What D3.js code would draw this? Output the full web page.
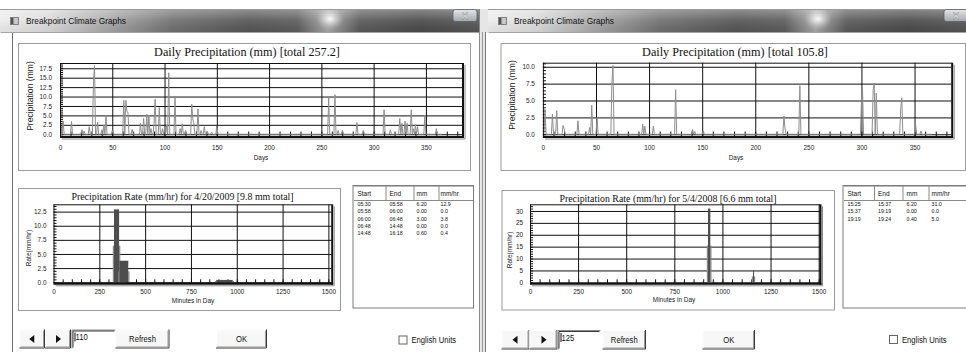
<!DOCTYPE html>
<html><head><meta charset="utf-8">
<script src="https://cdn.jsdelivr.net/npm/d3@7"></script>
<style>html,body{margin:0;padding:0;background:#fff;overflow:hidden}svg{display:block}</style>
</head><body>
<script>
// ---- daily totals (day of year, mm) ----
const rainDays2009 = [3,11,21,23,28,32,33,36,40,42,44,50,61,63,64,65,69,77,80,83,85,87,90,91,95,98,100,102,104,110,115,117,120,126,127,128,132,135,138,141,145,150,257,263,266,270,284,290,310,316,325,327,330,332,336,338,340,342,349,360];
const rainMm2009   = [3.5,3.4,1.2,0.8,2.0,14.0,18.2,3.2,1.2,2.5,5.0,1.0,9.0,9.0,6.0,5.8,1.3,2.9,4.2,5.3,5.1,1.5,3.0,9.3,7.1,1.5,1.5,2.5,16.3,9.8,1.5,2.8,1.0,8.0,4.0,3.0,6.7,1.0,2.0,0.8,0.6,2.2,9.7,10.5,1.0,1.0,3.1,1.0,6.5,1.2,4.2,2.9,3.5,2.9,6.5,1.5,2.5,2.0,5.0,1.5];
const rainDays2008 = [2,9,13,19,20,33,44,46,51,65,66,94,96,104,125,141,143,151,227,228,242,300,301,311,312,314,337,338,351,356];
const rainMm2008   = [3.7,3.0,3.5,1.3,0.8,2.0,1.0,4.3,2.5,7.6,10.2,1.5,1.2,1.2,6.6,0.7,0.4,0.5,2.7,0.9,7.2,4.8,6.8,6.5,7.6,6.1,3.8,5.4,1.5,0.5];

// ---- breakpoint events for the selected day ----
const evStart0420 = ["05:30","05:58","06:00","06:48","14:48"];
const evEnd0420   = ["05:58","06:00","06:48","14:48","16:18"];
const evMm0420    = ["6.20","0.00","3.00","0.00","0.60"];
const evRate0420  = ["12.9","0.0","3.8","0.0","0.4"];
const evStart0504 = ["15:25","15:37","19:19"];
const evEnd0504   = ["15:37","19:19","19:24"];
const evMm0504    = ["6.20","0.00","0.40"];
const evRate0504  = ["31.0","0.0","5.0"];

// ---- tick values ----
const dayTicks = [0,50,100,150,200,250,300,350];
const minuteTicks = [0,250,500,750,1000,1250,1500];
const mmTicks2009 = [0,2.5,5,7.5,10,12.5,15,17.5];
const mmTicks2008 = [0,2.5,5,7.5,10];
const rateTicks0420 = [0,2.5,5,7.5,10,12.5];
const rateTicks0504 = [0,5,10,15,20,25,30];
const tableHeader = ["Start","End","mm","mm/hr"];

const SANS = "'Liberation Sans', Arial, sans-serif";
const SERIF = "'Liberation Serif', 'Times New Roman', serif";

const svg = d3.select("body").append("svg").attr("width",966).attr("height",352);
const defs = svg.append("defs");
svg.append("rect").attr("width",966).attr("height",352).attr("fill","#fff");

// ---------- window chrome ----------
function barGradient(id, x0, x1){
  const g = defs.append("linearGradient").attr("id",id).attr("gradientUnits","userSpaceOnUse")
    .attr("x1",x0).attr("x2",x1).attr("y1",0).attr("y2",0);
  [[0,"#ececec"],[0.1,"#dadada"],[0.22,"#a9a9a9"],[0.36,"#707070"],[0.52,"#555"],[0.62,"#5c5c5c"],
   [0.685,"#a8a8a8"],[0.75,"#5a5a5a"],[0.88,"#4a4a4a"],[1,"#565656"]]
    .forEach(([o,c])=>g.append("stop").attr("offset",o).attr("stop-color",c));
}
const sheen = defs.append("linearGradient").attr("id","sheen").attr("x1",0).attr("x2",0).attr("y1",0).attr("y2",1);
sheen.append("stop").attr("offset",0).attr("stop-color","#fff").attr("stop-opacity",0.35);
sheen.append("stop").attr("offset",0.5).attr("stop-color","#fff").attr("stop-opacity",0.08);
sheen.append("stop").attr("offset",1).attr("stop-color","#000").attr("stop-opacity",0.05);
const glow = defs.append("radialGradient").attr("id","glow");
glow.append("stop").attr("offset",0).attr("stop-color","#fff").attr("stop-opacity",0.95);
glow.append("stop").attr("offset",0.45).attr("stop-color","#eee").attr("stop-opacity",0.5);
glow.append("stop").attr("offset",1).attr("stop-color","#ccc").attr("stop-opacity",0);
const closeG = defs.append("linearGradient").attr("id","closeG").attr("x1",0).attr("x2",0).attr("y1",0).attr("y2",1);
closeG.append("stop").attr("offset",0).attr("stop-color","#e4e6ea");
closeG.append("stop").attr("offset",1).attr("stop-color","#a3a7ae");

function windowChrome(o){
  barGradient(o.id, o.x0, o.x1);
  svg.append("rect").attr("x",o.x0).attr("y",9).attr("width",o.x1-o.x0).attr("height",23).attr("fill",`url(#${o.id})`);
  svg.append("ellipse").attr("cx",o.glowX).attr("cy",19).attr("rx",14).attr("ry",11).attr("fill","url(#glow)");
  svg.append("rect").attr("x",o.x0).attr("y",9).attr("width",o.x1-o.x0).attr("height",23).attr("fill","url(#sheen)");
  svg.append("line").attr("x1",o.x0).attr("x2",o.x1).attr("y1",9.5).attr("y2",9.5).attr("stroke","#9a9a9a");
  // icon
  svg.append("rect").attr("x",o.x0+10.5).attr("y",17.5).attr("width",8).attr("height",7).attr("fill","#c8c8c8").attr("stroke","#6a6a6a").attr("stroke-width",0.8);
  svg.append("rect").attr("x",o.x0+11).attr("y",18).attr("width",2.5).attr("height",6).attr("fill","#555");
  svg.append("text").attr("x",o.x0+26).attr("y",24).attr("font-family",SANS).attr("font-size",9)
    .attr("textLength",100).attr("lengthAdjust","spacingAndGlyphs").attr("fill","#111").text("Breakpoint Climate Graphs");
  // close button
  svg.append("rect").attr("x",o.closeX).attr("y",9.5).attr("width",24).attr("height",12).attr("rx",2.5)
    .attr("fill","url(#closeG)").attr("stroke","#5d6168").attr("stroke-width",0.8);
  svg.append("text").attr("x",o.closeX+12).attr("y",18.6).attr("text-anchor","middle").attr("font-family",SANS)
    .attr("font-size",9).attr("font-weight","bold").attr("fill","#fff").attr("stroke","#555").attr("stroke-width",0.3).text("X");
  // client area border
  svg.append("line").attr("x1",o.x0+0.5).attr("x2",o.x1).attr("y1",32.5).attr("y2",32.5).attr("stroke","#a5a5a5");
}
windowChrome({id:"tb1", x0:0, x1:479, glowX:330, closeX:453});
windowChrome({id:"tb2", x0:488, x1:966, glowX:818, closeX:944});
// frame edges
svg.append("line").attr("x1",12.5).attr("x2",12.5).attr("y1",33).attr("y2",352).attr("stroke","#6d6d6d");
svg.append("rect").attr("x",479).attr("y",9).attr("width",9).attr("height",343).attr("fill","#e6e6e6");
svg.append("line").attr("x1",479.5).attr("x2",479.5).attr("y1",9).attr("y2",352).attr("stroke","#8a8a8a");
svg.append("line").attr("x1",482.5).attr("x2",482.5).attr("y1",32).attr("y2",352).attr("stroke","#9a9a9a");
svg.append("line").attr("x1",485.5).attr("x2",485.5).attr("y1",32).attr("y2",352).attr("stroke","#7a7a7a");
svg.append("rect").attr("x",486).attr("y",33).attr("width",480).attr("height",319).attr("fill","#fff");

// ---------- chart panel ----------
function panel(c){
  const g = svg.append("g");
  g.append("rect").attr("x",c.box[0]+0.5).attr("y",c.box[1]+0.5).attr("width",c.box[2]-c.box[0]).attr("height",c.box[3]-c.box[1])
    .attr("fill","#fff").attr("stroke","#9c9c9c");
  g.append("text").attr("x",c.titleX).attr("y",c.titleY).attr("text-anchor","middle").attr("font-family",SERIF)
    .attr("font-size",c.titleSize).attr("fill","#111").text(c.title);
  const [x0,x1,y0,y1] = c.plot;
  const x = d3.scaleLinear().domain(c.xDomain).range([x0,x1]);
  const y = d3.scaleLinear().domain(c.yDomain).range([y1,y0]);
  const w = x1-x0, h = y1-y0;
  // grid
  g.append("g").attr("transform",`translate(${x0},0)`)
    .call(d3.axisLeft(y).tickValues(c.yTicks).tickSize(-w).tickFormat(""))
    .call(s=>{s.select(".domain").remove(); s.selectAll("line").attr("stroke","#111").attr("stroke-width",1);});
  g.append("g").attr("transform",`translate(0,${y1})`)
    .call(d3.axisBottom(x).tickValues(c.xTicks.filter(v=>v>c.xDomain[0])).tickSize(h).tickFormat(""))
    .call(s=>{s.select(".domain").remove(); s.selectAll("line").attr("stroke","#111").attr("transform",`translate(0,${-h})`);});
  // minor ticks
  g.append("g").attr("transform",`translate(${x0},0)`)
    .call(d3.axisLeft(y).tickValues(d3.range(0,c.yDomain[1],c.yMinor)).tickSize(-3).tickFormat(""))
    .call(s=>{s.select(".domain").remove(); s.selectAll("line").attr("stroke","#111");});
  g.append("g").attr("transform",`translate(0,${y1})`)
    .call(d3.axisBottom(x).tickValues(d3.range(c.xMinor,c.xDomain[1],c.xMinor)).tickSize(-c.xMinorLen).tickFormat(""))
    .call(s=>{s.select(".domain").remove(); s.selectAll("line").attr("stroke","#111");});
  // tick labels
  g.append("g").attr("transform",`translate(${x0},0)`)
    .call(d3.axisLeft(y).tickValues(c.yTicks).tickSize(0).tickPadding(c.yPad).tickFormat(c.yFmt))
    .call(s=>{s.select(".domain").remove(); s.selectAll("text").attr("font-family",SANS).attr("font-size",6.4).attr("fill","#222");});
  g.append("g").attr("transform",`translate(0,${y1})`)
    .call(d3.axisBottom(x).tickValues(c.xTicks).tickSize(0).tickPadding(c.xPad).tickFormat(d3.format("d")))
    .call(s=>{s.select(".domain").remove(); s.selectAll("text").attr("font-family",SANS).attr("font-size",6.4).attr("fill","#222");});
  g.append("text").attr("x",c.xLabel[1]).attr("y",c.xLabel[2]).attr("text-anchor","middle").attr("font-family",SANS)
    .attr("font-size",6.4).attr("fill","#222").text(c.xLabel[0]);
  g.append("text").attr("transform",`translate(${c.yLabel[1]},${c.yLabel[2]}) rotate(-90)`).attr("text-anchor","middle")
    .attr("font-family",SANS).attr("font-size",c.yLabel[3]).attr("fill","#222").text(c.yLabel[0]);
  const marks = g.append("g");
  // plot frame with raised right/bottom edge
  g.append("line").attr("x1",x0).attr("x2",x1).attr("y1",y0+0.5).attr("y2",y0+0.5).attr("stroke","#111");
  g.append("line").attr("x1",x0+0.5).attr("x2",x0+0.5).attr("y1",y0).attr("y2",y1).attr("stroke","#111");
  g.append("line").attr("x1",x1+0.5).attr("x2",x1+0.5).attr("y1",y0).attr("y2",y1+1.5).attr("stroke","#111").attr("stroke-width",2);
  g.append("line").attr("x1",x0).attr("x2",x1+1.5).attr("y1",y1+0.5).attr("y2",y1+0.5).attr("stroke","#111").attr("stroke-width",2);
  g.append("line").attr("x1",x1+2.5).attr("x2",x1+2.5).attr("y1",y0+2).attr("y2",y1+2.5).attr("stroke","#8a8a8a");
  g.append("line").attr("x1",x0+2).attr("x2",x1+2.5).attr("y1",y1+2.5).attr("y2",y1+2.5).attr("stroke","#8a8a8a");
  return {x,y,marks};
}

function dailySeries(days, mm, n){
  const lookup = new Map(days.map((d,i)=>[d,mm[i]]));
  return d3.range(1,n+1).map(d=>({day:d, mm: lookup.get(d) || 0}));
}
function drawDaily(p, days, mm, n){
  p.marks.append("path").datum(dailySeries(days,mm,n))
    .attr("d", d3.line().x(d=>p.x(d.day)).y(d=>p.y(d.mm)))
    .attr("fill","none").attr("stroke","#8d8d8d").attr("stroke-width",1);
}
const toMin = s => { const [h,m] = s.split(":").map(Number); return h*60+m; };
function drawRates(p, starts, ends, rates){
  const ev = starts.map((s,i)=>({a:toMin(s), b:toMin(ends[i]), r:+rates[i]}));
  ev.forEach((e,i)=>{
    if(e.r<=0) return;
    const prev = ev[i-1], next = ev[i+1];
    if(!prev || prev.r===0)
      p.marks.append("rect").attr("x",p.x(e.a)-1.2).attr("width",1.2).attr("y",p.y(e.r/2)).attr("height",p.y(0)-p.y(e.r/2)).attr("fill","#8a8a8a");
    if(!next || next.r===0)
      p.marks.append("rect").attr("x",p.x(e.b)).attr("width",1.2).attr("y",p.y(e.r/2)).attr("height",p.y(0)-p.y(e.r/2)).attr("fill","#8a8a8a");
    p.marks.append("rect").attr("x",p.x(e.a)).attr("width",Math.max(1,p.x(e.b)-p.x(e.a))).attr("y",p.y(e.r))
      .attr("height",p.y(0)-p.y(e.r)).attr("fill","#4e4e4e");
  });
}

const f1 = d3.format(".1f"), f0 = d3.format("d");
const d2009 = panel({box:[18,43,470,170], title:"Daily Precipitation (mm) [total 257.2]", titleSize:12.2, titleX:247, titleY:55.5,
  plot:[60,462.5,63,136.5], xDomain:[0,385], yDomain:[-0.6,18.9], xTicks:dayTicks, yTicks:mmTicks2009,
  yMinor:0.5, xMinor:10, xMinorLen:5, yFmt:f1, yPad:8, xPad:8.5, xLabel:["Days",261,159.5], yLabel:["Precipitation (mm)",32.5,96,8.6]});
drawDaily(d2009, rainDays2009, rainMm2009, 365);
const d2008 = panel({box:[500.5,43,965,170], title:"Daily Precipitation (mm) [total 105.8]", titleSize:12.2, titleX:735, titleY:55.5,
  plot:[542.9,951.7,62.7,136.5], xDomain:[0,385], yDomain:[-0.33,10.6], xTicks:dayTicks, yTicks:mmTicks2008,
  yMinor:0.5, xMinor:10, xMinorLen:5, yFmt:f1, yPad:8, xPad:8.5, xLabel:["Days",736,159.5], yLabel:["Precipitation (mm)",514.5,95,8.6]});
drawDaily(d2008, rainDays2008, rainMm2008, 366);
const r0420 = panel({box:[18,188,340,310], title:"Precipitation Rate (mm/hr) for 4/20/2009 [9.8 mm total]", titleSize:9.9, titleX:182.5, titleY:199.5,
  plot:[53.5,331.7,204.3,283.3], xDomain:[0,1518], yDomain:[-0.2,13.8], xTicks:minuteTicks, yTicks:rateTicks0420,
  yMinor:0.5, xMinor:50, xMinorLen:4, yFmt:f1, yPad:7, xPad:6.5, xLabel:["Minutes in Day",193,303.2], yLabel:["Rate(mm/hr)",30.5,248,6.5]});
drawRates(r0420, evStart0420, evEnd0420, evRate0420);
const r0504 = panel({box:[501.5,190,834,309.5], title:"Precipitation Rate (mm/hr) for 5/4/2008 [6.6 mm total]", titleSize:9.9, titleX:668, titleY:201.5,
  plot:[530,820,204.3,283.3], xDomain:[0,1507], yDomain:[-0.4,32.8], xTicks:minuteTicks, yTicks:rateTicks0504,
  yMinor:1, xMinor:50, xMinorLen:4, yFmt:f0, yPad:7, xPad:6.5, xLabel:["Minutes in Day",674,302.2], yLabel:["Rate(mm/hr)",511.5,250,6.5]});
drawRates(r0504, evStart0504, evEnd0504, evRate0504);

// ---------- event tables ----------
function condensedText(parent, x, y, s, size){
  parent.append("text").attr("transform",`translate(${x},${y}) scale(0.85,1)`).attr("font-family",SANS)
    .attr("font-size",size).attr("fill","#111").text(s);
}
function eventTable(t, cols){
  const g = svg.append("g");
  g.append("rect").attr("x",t.x0+0.5).attr("y",t.y0+0.5).attr("width",t.x1-t.x0).attr("height",t.y1-t.y0)
    .attr("fill","#fff").attr("stroke","#7c7c7c");
  g.append("line").attr("x1",t.x0+1.5).attr("x2",t.x1).attr("y1",t.y0+1.5).attr("y2",t.y0+1.5).attr("stroke","#bbb");
  g.append("line").attr("x1",t.x0+1.5).attr("x2",t.x1).attr("y1",t.hb+0.5).attr("y2",t.hb+0.5).attr("stroke","#8a8a8a");
  t.seps.forEach(s=>g.append("line").attr("x1",s+0.5).attr("x2",s+0.5).attr("y1",t.y0+1).attr("y2",t.hb).attr("stroke","#8a8a8a"));
  tableHeader.forEach((h,i)=>condensedText(g, t.tx[i], t.y0+11, h, 7.6));
  cols[0].forEach((_,r)=>{
    cols.forEach((col,i)=>condensedText(g, t.tx[i], t.y0+21.2+r*7.2, col[r], 6.2));
  });
}
eventTable({x0:352.5,y0:185,x1:473,y1:307.5,hb:200,seps:[385.5,413.5,438.5],tx:[357.5,389.5,416.5,440.5]},
  [evStart0420,evEnd0420,evMm0420,evRate0420]);
eventTable({x0:842.5,y0:185,x1:972,y1:307.5,hb:200,seps:[874,902.5,928.5],tx:[847.5,878,906.5,931.5]},
  [evStart0504,evEnd0504,evMm0504,evRate0504]);

// ---------- dialog controls ----------
function button(x0,x1,y0,y1,label){
  const g = svg.append("g");
  g.append("rect").attr("x",x0).attr("y",y0).attr("width",x1-x0).attr("height",y1-y0).attr("fill","#f7f7f7");
  g.append("path").attr("d",`M${x0+0.5},${y1}V${y0+0.5}H${x1}`).attr("fill","none").attr("stroke","#fff");
  g.append("path").attr("d",`M${x0},${y1-0.5}H${x1-0.5}V${y0}`).attr("fill","none").attr("stroke","#3a3a3a");
  g.append("path").attr("d",`M${x0+1},${y1-1.5}H${x1-1.5}V${y0+1}`).attr("fill","none").attr("stroke","#9a9a9a");
  if(label==="◄"||label==="►"){
    const cx=(x0+x1)/2, cy=(y0+y1)/2, s = label==="◄"?-1:1;
    g.append("path").attr("d",`M${cx+s*3},${cy}L${cx-s*2},${cy-4}L${cx-s*2},${cy+4}Z`).attr("fill","#111");
  } else {
    g.append("text").attr("transform",`translate(${(x0+x1)/2},${(y0+y1)/2+3}) scale(0.85,1)`).attr("text-anchor","middle")
      .attr("font-family",SANS).attr("font-size",9).attr("fill","#111").text(label);
  }
}
function textBox(x0,x1,y0,y1,val){
  const g = svg.append("g");
  g.append("rect").attr("x",x0).attr("y",y0).attr("width",x1-x0).attr("height",y1-y0).attr("fill","#fff");
  g.append("path").attr("d",`M${x0+0.5},${y1}V${y0+0.5}H${x1}`).attr("fill","none").attr("stroke","#8a8a8a");
  g.append("path").attr("d",`M${x0+1.5},${y1-1}V${y0+1.5}H${x1-1}`).attr("fill","none").attr("stroke","#3a3a3a");
  g.append("line").attr("x1",x0+3.5).attr("x2",x0+3.5).attr("y1",y0+3).attr("y2",y0+12).attr("stroke","#111");
  g.append("text").attr("transform",`translate(${x0+4},${y0+10.5}) scale(0.85,1)`).attr("font-family",SANS)
    .attr("font-size",9).attr("fill","#111").text(val);
}
function checkBox(x,y,label){
  svg.append("rect").attr("x",x+0.5).attr("y",y+0.5).attr("width",8).attr("height",8).attr("fill","#fff").attr("stroke","#666");
  svg.append("text").attr("transform",`translate(${x+13},${y+7.5}) scale(0.85,1)`).attr("font-family",SANS)
    .attr("font-size",9).attr("fill","#111").text(label);
}
button(19.5,45,329.5,348.5,"◄"); button(45,71,329.5,348.5,"►");
textBox(71.5,115.5,329.5,348.5,"110");
button(115.5,169.5,329.5,348.5,"Refresh"); button(216,267,329.5,348.5,"OK");
checkBox(398.5,335.5,"English Units");
button(501.5,529.5,330,349.5,"◄"); button(529.5,557.5,330,349.5,"►");
textBox(557.5,600.5,330,349.5,"125");
button(602.5,646,330,349.5,"Refresh"); button(702.5,755,330,349.5,"OK");
checkBox(889,335,"English Units");
</script>
</body></html>
